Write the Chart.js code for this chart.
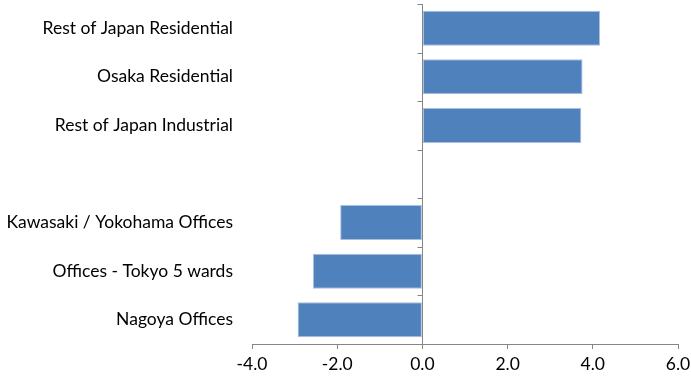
<!DOCTYPE html>
<html>
<head>
    <script src="https://cdn.jsdelivr.net/npm/chart.js@4.4.1/dist/chart.umd.min.js"></script>
    <title>Japan real estate</title>
    <style>
        html, body { margin: 0; padding: 0; background: #fff; overflow: hidden; }
        #wrap { width: 691px; height: 383px; }
    </style>
</head>
<body>
<div id="wrap"><canvas id="myChart"></canvas></div>

<script>
    // categories top to bottom, blank row splits the groups
    var categories = [
        'Rest of Japan Residential',
        'Osaka Residential',
        'Rest of Japan Industrial',
        '',
        'Kawasaki / Yokohama Offices',
        'Offices - Tokyo 5 wards',
        'Nagoya Offices'
    ];
    var values = [4.17, 3.76, 3.73, null, -1.93, -2.57, -2.93];
    var xTicks = [-4, -2, 0, 2, 4, 6];

    var axisGrey = '#868686';
    var labelFont = { family: 'Lato', size: 17.5 };

    // vertical axis sits at zero, with small tick marks between categories
    var zeroAxis = {
        id: 'zeroAxis',
        afterDatasetsDraw: function(chart) {
            var ctx = chart.ctx;
            var xs = chart.scales.x;
            var ys = chart.scales.y;
            var x0 = Math.round(xs.getPixelForValue(0)) + 0.5;
            var step = ys.getPixelForValue(1) - ys.getPixelForValue(0);
            ctx.save();
            ctx.strokeStyle = axisGrey;
            ctx.lineWidth = 1;
            ctx.beginPath();
            ctx.moveTo(x0, chart.chartArea.top);
            ctx.lineTo(x0, chart.chartArea.bottom);
            for (var i = 0; i <= categories.length; i++) {
                var y = Math.round(ys.getPixelForValue(i) - step / 2) + 0.5;
                ctx.moveTo(x0 - 5, y);
                ctx.lineTo(x0, y);
            }
            ctx.stroke();
            ctx.restore();
        }
    };

    var ctx = document.getElementById('myChart').getContext('2d');
    var myChart = new Chart(ctx, {
        type: 'bar',
        data: {
            labels: categories,
            datasets: [
                {
                    data: values,
                    backgroundColor: '#4f81bd',
                    borderColor: '#a9c0dd',
                    borderWidth: 1,
                    borderSkipped: false,
                    categoryPercentage: 0.72,
                    barPercentage: 1
                }
            ]
        },
        options: {
            indexAxis: 'y',
            responsive: true,
            maintainAspectRatio: false,
            animation: false,
            layout: {
                padding: { top: 4, bottom: 0, left: 0, right: 13 }
            },
            scales: {
                x: {
                    min: -4,
                    max: 6,
                    afterBuildTicks: function(scale) {
                        scale.ticks = xTicks.map(function(v) { return { value: v }; });
                    },
                    afterFit: function(scale) {
                        scale.height = 39;
                        scale.paddingLeft = 0;
                        scale.paddingRight = 0;
                    },
                    ticks: {
                        color: '#000',
                        font: labelFont,
                        padding: 5,
                        maxRotation: 0,
                        callback: function(v) { return Number(v).toFixed(1); }
                    },
                    grid: {
                        drawOnChartArea: false,
                        drawTicks: true,
                        tickLength: 5,
                        color: axisGrey
                    },
                    border: { display: true, color: axisGrey }
                },
                y: {
                    position: 'left',
                    afterFit: function(scale) {
                        scale.width = 252;
                        scale.paddingTop = 0;
                        scale.paddingBottom = 0;
                    },
                    ticks: {
                        color: '#000',
                        font: labelFont,
                        padding: 19
                    },
                    grid: { display: false, drawTicks: false },
                    border: { display: false }
                }
            },
            plugins: {
                legend: { display: false },
                tooltip: { enabled: false },
                title: { display: false }
            }
        },
        plugins: [zeroAxis]
    });
</script>
</body>
</html>
